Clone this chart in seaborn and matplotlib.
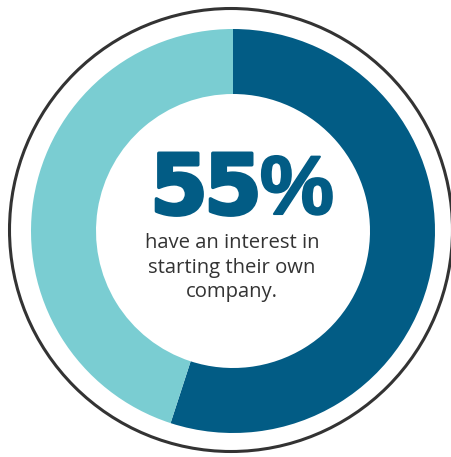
import matplotlib
matplotlib.use("Agg")
import matplotlib.pyplot as plt
import matplotlib.patheffects as pe
import seaborn as sns
from matplotlib.patches import Circle

categories = ["Interested", "Not interested"]
shares = [55, 45]
colors = ["#025C85", "#7ACDD2"]
headline = "55%"
caption = ["have an interest in", "starting their own", "company."]

sns.set_theme(style="white")
plt.rcParams['font.family'] = ['Open Sans', 'DejaVu Sans']

W, H = 451, 457
fig = plt.figure(figsize=(W / 100, H / 100), dpi=100)
ax = fig.add_axes([0, 0, 1, 1])

cx, cy = 233, H - 231
ax.pie(shares, colors=colors, startangle=90, counterclock=False,
       center=(cx, cy), radius=202,
       wedgeprops=dict(width=65, linewidth=0, antialiased=True), frame=True)
ax.set_xlim(0, W)
ax.set_ylim(0, H)
ax.set_aspect('equal')
ax.axis('off')

ax.add_patch(Circle((231, H - 230), 221.5, fill=False, edgecolor="#333333", linewidth=2.2))

# headline drawn glyph by glyph to mimic the wide heavy display face
glyph_x = [179, 233, 297]
glyph_font = [['DejaVu Sans'], ['DejaVu Sans'], ['Liberation Sans', 'DejaVu Sans']]
glyph_size = [60, 60, 60]
glyph_stroke = [2.5, 2.5, 1.5]
for ch, gx, fam, fs, sw in zip(headline, glyph_x, glyph_font, glyph_size, glyph_stroke):
    ax.text(gx, H - 214, ch, ha='center', va='baseline', color=colors[0],
            fontsize=fs, fontweight='bold', family=fam,
            path_effects=[pe.withStroke(linewidth=sw, foreground=colors[0])])

for i, line in enumerate(caption):
    ax.text(232, H - (248 + 24.5 * i), line, ha='center', va='baseline',
            color="#333333", fontsize=14.6)

fig.savefig("out.png", dpi=100)
